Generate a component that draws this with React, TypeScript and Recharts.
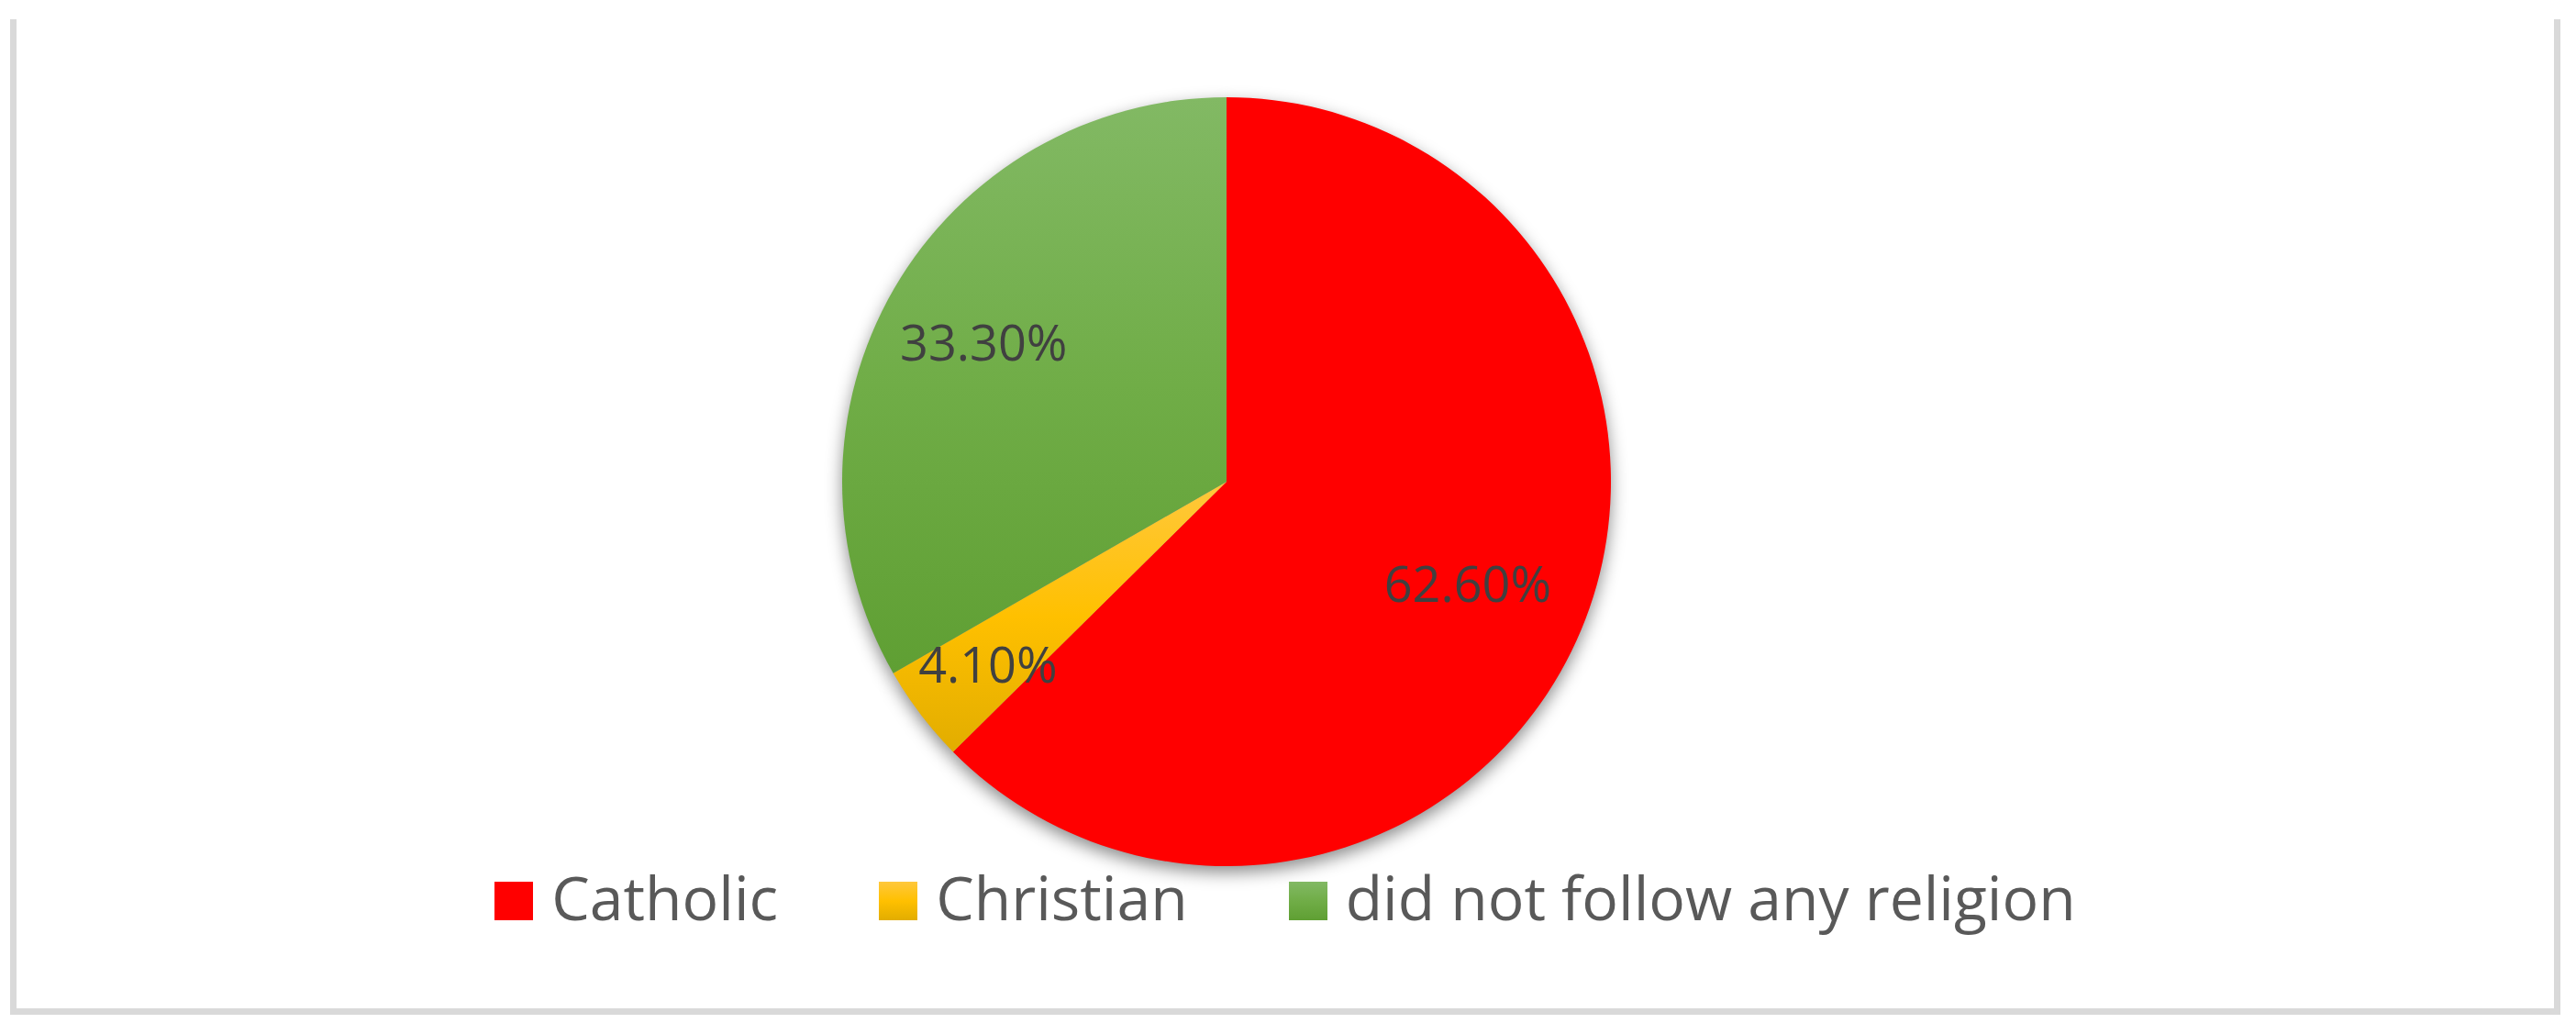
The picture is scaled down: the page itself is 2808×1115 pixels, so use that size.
import React from "react";
import { PieChart, Pie, Cell, Legend } from "recharts";

const categories = ["Catholic", "Christian", "did not follow any religion"];
const shares = [62.6, 4.1, 33.3];

const COLORS = ["url(#gRed)", "url(#gYellow)", "url(#gGreen)"];
const SWATCH = [
  "#ff0000",
  "linear-gradient(#ffc83d, #ffc000 50%, #e2ad00)",
  "linear-gradient(#82b964, #70ad47 50%, #5f9f33)",
];
// label distance from centre as a share of the radius (Excel "best fit")
const LABEL_POS = [0.68, 0.78, 0.73];

const W = 2808;
const H = 1115;
const CX = 1337;
const CY = 525;
const R = 419;

const data = categories.map((name, i) => ({ name, value: shares[i] }));

const RADIAN = Math.PI / 180;

function renderLabel(props: any) {
  const { cx, cy, midAngle, outerRadius, value, index } = props;
  const r = outerRadius * LABEL_POS[index];
  const x = cx + r * Math.cos(-midAngle * RADIAN);
  const y = cy + r * Math.sin(-midAngle * RADIAN);
  return (
    <text
      x={x}
      y={y}
      fill="#404040"
      fontSize={54}
      fontFamily="'Open Sans', sans-serif"
      textAnchor="middle"
      dominantBaseline="central"
    >
      {`${value.toFixed(2)}%`}
    </text>
  );
}

function renderLegend() {
  return (
    <div
      style={{
        display: "flex",
        justifyContent: "center",
        alignItems: "baseline",
        gap: 110,
        fontFamily: "'Open Sans', sans-serif",
        fontSize: 66,
        lineHeight: 1,
        color: "#595959",
      }}
    >
      {categories.map((c, i) => (
        <div key={c} style={{ display: "flex", alignItems: "baseline" }}>
          <span
            style={{
              display: "inline-block",
              width: 42,
              height: 42,
              marginRight: 20,
              background: SWATCH[i],
            }}
          />
          <span>{c}</span>
        </div>
      ))}
    </div>
  );
}

export default function App() {
  return (
    <div style={{ position: "absolute", left: 0, top: 0, width: W, height: H, background: "#fff" }}>
      <div
        style={{
          position: "absolute",
          left: 11,
          top: 21,
          width: 2780,
          height: 1085,
          boxSizing: "border-box",
          borderLeft: "7px solid #d9d9d9",
          borderRight: "7px solid #d9d9d9",
          borderBottom: "7px solid #d9d9d9",
        }}
      />
      <div style={{ position: "absolute", left: 0, top: 0 }}>
        <PieChart width={W} height={H} margin={{ top: 0, right: 0, bottom: 0, left: 0 }}>
          <defs>
            <linearGradient id="gRed" x1="0" y1="0" x2="0" y2="1">
              <stop offset="0%" stopColor="#ff0000" />
              <stop offset="100%" stopColor="#ff0000" />
            </linearGradient>
            <linearGradient id="gYellow" x1="0" y1="0" x2="0" y2="1">
              <stop offset="0%" stopColor="#ffc83d" />
              <stop offset="50%" stopColor="#ffc000" />
              <stop offset="100%" stopColor="#e2ad00" />
            </linearGradient>
            <linearGradient id="gGreen" x1="0" y1="0" x2="0" y2="1">
              <stop offset="0%" stopColor="#82b964" />
              <stop offset="50%" stopColor="#70ad47" />
              <stop offset="100%" stopColor="#5f9f33" />
            </linearGradient>
            <filter id="shadowBlur" x="-20%" y="-20%" width="140%" height="140%">
              <feGaussianBlur stdDeviation="9" />
            </filter>
          </defs>
          {/* soft shadow under the pie */}
          <Pie
            data={data}
            dataKey="value"
            cx={CX}
            cy={CY + 7}
            outerRadius={R}
            startAngle={90}
            endAngle={-270}
            stroke="none"
            legendType="none"
            isAnimationActive={false}
          >
            {data.map((d) => (
              <Cell key={d.name} fill="#000" fillOpacity={0.45} filter="url(#shadowBlur)" />
            ))}
          </Pie>
          <Pie
            data={data}
            dataKey="value"
            cx={CX}
            cy={CY}
            outerRadius={R}
            startAngle={90}
            endAngle={-270}
            stroke="none"
            label={renderLabel}
            labelLine={false}
            isAnimationActive={false}
          >
            {data.map((d, i) => (
              <Cell key={d.name} fill={COLORS[i]} />
            ))}
          </Pie>
          <Legend
            content={renderLegend}
            wrapperStyle={{ top: 944, left: 11, width: 2780, height: 90 }}
          />
        </PieChart>
      </div>
    </div>
  );
}
